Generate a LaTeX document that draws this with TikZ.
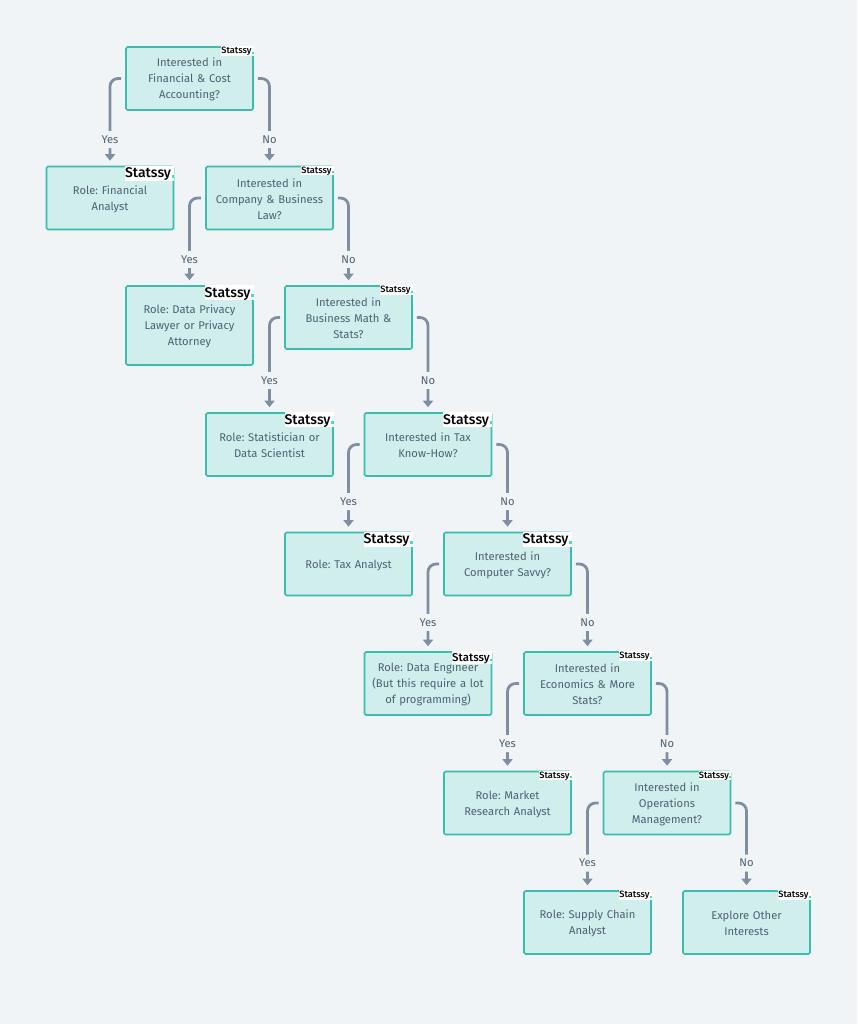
\documentclass[tikz,border=0pt]{standalone}
\usepackage{fontspec}
\setmainfont{Fira Sans}
\newfontfamily\stampfont{Fira Sans Medium}
\usetikzlibrary{arrows.meta}
\definecolor{bgcol}{HTML}{F0F4F7}
\definecolor{boxfill}{HTML}{CFEEEC}
\definecolor{boxline}{HTML}{3ABDAD}
\definecolor{linkcol}{HTML}{7F8EA0}
\definecolor{textcol}{HTML}{4F6072}
\definecolor{dotcol}{HTML}{45DDBD}
\newcommand{\stamptext}{\stampfont Statssy\hspace{0.04em}\textcolor{dotcol}{\rule{0.18em}{0.22em}}}
\tikzset{
  box/.style={draw=boxline, fill=boxfill, line width=1.6pt, rounded corners=1.5pt, minimum width=127pt, minimum height=63pt, align=center, text=textcol, font=\fontsize{11.2}{16}\selectfont\frenchspacing, inner sep=0pt, text width=124pt, execute at begin node=\rule{0pt}{11pt}},
  link/.style={draw=linkcol, line width=2.8pt, rounded corners=8pt, shorten <=4pt, shorten >=5pt, -{Triangle[length=6.5pt, width=10pt]}},
  tag/.style={fill=bgcol, text=textcol, font=\fontsize{11.2}{13}\selectfont, inner xsep=2pt, inner ysep=0pt, minimum height=17pt},
  stampbig/.style={fill=white, text=black, anchor=north east, inner sep=0pt, font=\fontsize{14}{15}\selectfont, text height=12pt, text depth=3pt},
  stampmid/.style={fill=white, text=black, anchor=north east, inner sep=0pt, font=\fontsize{11.4}{12}\selectfont, text height=10pt, text depth=2.5pt},
  stampsmall/.style={fill=white, text=black, anchor=north east, inner sep=0pt, font=\fontsize{9.2}{10}\selectfont, text height=7.5pt, text depth=2pt},
}
\begin{document}
\begin{tikzpicture}[x=1pt, y=-1pt]
\fill [bgcol] (0,0) rectangle (857,1024);
\useasboundingbox (0,0) rectangle (857,1024);
\node [box] (fin) at (189.5,78.5) {Interested in\\Financial \& Cost\\Accounting?};
\node [box] (law) at (269.5,198) {Interested in\\Company \& Business\\Law?};
\node [box] (math) at (348.5,317.5) {Interested in\\Business Math \&\\Stats?};
\node [box] (tax) at (428,444.5) {Interested in Tax\\Know-How?};
\node [box] (comp) at (507.5,564) {Interested in\\Computer Savvy?};
\node [box] (econ) at (587.5,683.5) {Interested in\\Economics \& More\\Stats?};
\node [box] (ops) at (667,803) {Interested in\\Operations\\Management?};
\node [box] (analyst) at (110,198) {Role: Financial\\Analyst};
\node [box, minimum height=79pt] (lawyer) at (189.5,325.5) {Role: Data Privacy\\Lawyer or Privacy\\Attorney};
\node [box] (scientist) at (269.5,444.5) {Role: Statistician or\\Data Scientist};
\node [box] (taxrole) at (348.5,564) {Role: Tax Analyst};
\node [box] (engineer) at (428,683.5) {Role: Data Engineer\\(But this require a lot\\of programming)};
\node [box] (market) at (507.5,803) {Role: Market\\Research Analyst};
\node [box] (supply) at (587.5,922.5) {Role: Supply Chain\\Analyst};
\node [box] (other) at (746.5,922.5) {Explore Other\\Interests};
\node [stampsmall] (s1) at (fin.north east) {\stamptext};
\node [stampsmall] (s2) at (law.north east) {\stamptext};
\node [stampsmall] (s3) at (math.north east) {\stamptext};
\node [stampbig] (s4) at (tax.north east) {\stamptext};
\node [stampbig] (s5) at (comp.north east) {\stamptext};
\node [stampsmall] (s6) at (econ.north east) {\stamptext};
\node [stampsmall] (s7) at (ops.north east) {\stamptext};
\node [stampbig] (s8) at (analyst.north east) {\stamptext};
\node [stampbig] (s9) at (lawyer.north east) {\stamptext};
\node [stampbig] (s10) at (scientist.north east) {\stamptext};
\node [stampbig] (s11) at (taxrole.north east) {\stamptext};
\node [stampmid] (s12) at (engineer.north east) {\stamptext};
\node [stampsmall] (s13) at (market.north east) {\stamptext};
\node [stampsmall] (s14) at (supply.north east) {\stamptext};
\node [stampsmall] (s15) at (other.north east) {\stamptext};
\draw [link] (fin.west) -| node [tag, pos=0.85] (y1) {Yes} (analyst.north);
\draw [link] (fin.east) -| node [tag, pos=0.85] (n1) {No} (law.north);
\draw [link] (law.west) -| node [tag, pos=0.852] (y2) {Yes} (lawyer.north);
\draw [link] (law.east) -| node [tag, pos=0.852] (n2) {No} (math.north);
\draw [link] (math.west) -| node [tag, pos=0.832] (y3) {Yes} (scientist.north);
\draw [link] (math.east) -| node [tag, pos=0.832] (n3) {No} (tax.north);
\draw [link] (tax.west) -| node [tag, pos=0.828] (y4) {Yes} (taxrole.north);
\draw [link] (tax.east) -| node [tag, pos=0.828] (n4) {No} (comp.north);
\draw [link] (comp.west) -| node [tag, pos=0.835] (y5) {Yes} (engineer.north);
\draw [link] (comp.east) -| node [tag, pos=0.835] (n5) {No} (econ.north);
\draw [link] (econ.west) -| node [tag, pos=0.845] (y6) {Yes} (market.north);
\draw [link] (econ.east) -| node [tag, pos=0.845] (n6) {No} (ops.north);
\draw [link] (ops.west) -| node [tag, pos=0.845] (y7) {Yes} (supply.north);
\draw [link] (ops.east) -| node [tag, pos=0.845] (n7) {No} (other.north);
\end{tikzpicture}
\end{document}
